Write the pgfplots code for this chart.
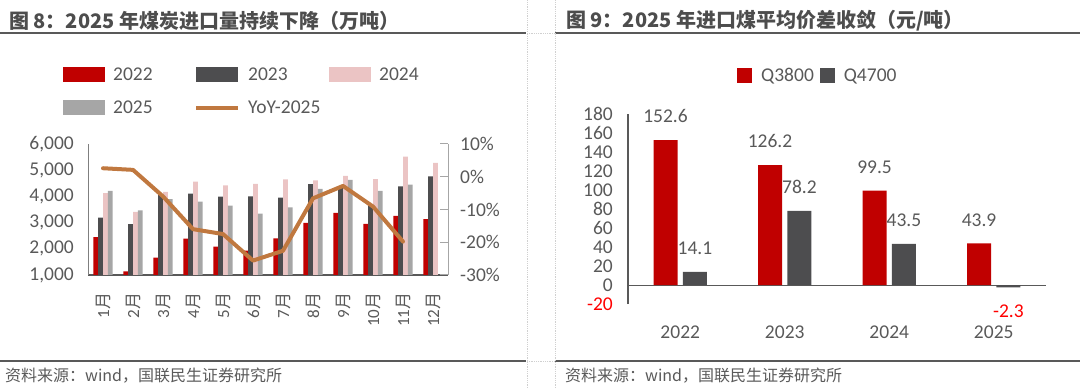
\documentclass[border=0pt]{standalone}
\usepackage{pgfplots}
\pgfplotsset{compat=1.18}
\usepackage{fontspec}
\setmainfont{Carlito}
\newfontfamily\cjk{Noto Sans CJK SC}
\newcommand\yue{{\cjk 月}}
\newcommand\fs[1]{\fontsize{#1}{#1}\selectfont}
\definecolor{cRed}{HTML}{C00000}
\definecolor{cDark}{HTML}{4D4D4F}
\definecolor{cPink}{HTML}{EBC4C4}
\definecolor{cGray}{HTML}{A6A6A6}
\definecolor{cLine}{HTML}{C0783F}
\definecolor{cText}{HTML}{595959}
\definecolor{cTitle}{HTML}{4D4D4D}
\definecolor{cAxisL}{HTML}{7F7F7F}
\definecolor{cAxisR}{HTML}{A6A6A6}
\definecolor{cSep}{HTML}{D0D0D0}
\definecolor{cNeg}{HTML}{FF0000}
\pgfplotsset{
  barlegL/.style={legend image code/.code={\fill[##1] (0pt,-7.5pt) rectangle (42pt,7.5pt);}},
  barlegR/.style={legend image code/.code={\fill[##1] (0pt,-7.5pt) rectangle (15pt,7.5pt);}},
  lineleg/.style={legend image code/.code={\draw[##1] (0pt,0pt) -- (42pt,0pt);}},
}
\begin{document}
\begin{tikzpicture}[x=1pt,y=1pt]
\path[use as bounding box] (0,0) rectangle (1080,388);
% frame lines
\draw[cText, line width=1.5pt] (0,355) -- (526,355);
\draw[cText, line width=1.5pt] (555,355) -- (1080,355);
\draw[cText, line width=2pt] (0,27) -- (526,27);
\draw[cText, line width=2pt] (555,27) -- (1080,27);
\draw[cSep, densely dotted, line width=0.8pt] (527,0) -- (527,388);
\draw[cSep, densely dotted, line width=0.8pt] (555,0) -- (555,388);
\draw[cSep, densely dotted, line width=0.8pt] (527,355) -- (555,355);
\draw[cSep, densely dotted, line width=0.8pt] (527,27) -- (555,27);
% titles
\node[anchor=west, inner sep=0pt, text=cTitle, font=\cjk\bfseries\fs{20}] at (9,367) {图 8：2025 年煤炭进口量持续下降（万吨）};
\node[anchor=west, inner sep=0pt, text=cTitle, font=\cjk\bfseries\fs{20}] at (566,367) {图 9：2025 年进口煤平均价差收敛（元/吨）};
\node[anchor=west, inner sep=0pt, text=cText, font=\cjk\fs{16}] at (5,12) {资料来源：wind，国联民生证券研究所};
\node[anchor=west, inner sep=0pt, text=cText, font=\cjk\fs{16}] at (565,12) {资料来源：wind，国联民生证券研究所};

% ---------- left chart, bars ----------
\begin{axis}[
  at={(88pt,113pt)}, anchor=south west, scale only axis,
  width=360pt, height=131pt,
  xmin=0.5, xmax=12.5, ymin=1000, ymax=6000,
  ybar=0pt, bar width=4.8pt,
  axis x line*=bottom, axis y line*=left,
  x axis line style={draw=cText, line width=1.6pt, -},
  y axis line style={draw=cAxisL, line width=1pt, -},
  xtick={1,...,12},
  xticklabels={1\yue,2\yue,3\yue,4\yue,5\yue,6\yue,7\yue,8\yue,9\yue,10\yue,11\yue,12\yue},
  xtick style={draw=none}, ytick style={draw=none},
  ytick={1000,2000,3000,4000,5000,6000},
  yticklabels={{1,000},{2,000},{3,000},{4,000},{5,000},{6,000}},
  tick label style={text=cText},
  yticklabel style={font=\fs{19.5}, inner sep=0pt, xshift=-14pt},
  xticklabel style={font=\fs{17}, rotate=90, anchor=east, inner xsep=13pt, inner ysep=0pt},
  legend columns=3,
  legend style={at={(-0.0694,1.60)}, anchor=north west, draw=none, fill=none,
    inner sep=0pt, font=\fs{19.5}, text=cText, row sep=15pt,
    /tikz/every odd column/.append style={column sep=6pt}, cells={anchor=west}},
]
\addplot[fill=cRed, draw=none, barlegL] coordinates {(1,2450) (2,1140) (3,1660) (4,2390) (5,2085) (6,1930) (7,2400) (8,2990) (9,3370) (10,2950) (11,3260) (12,3130)};
\addlegendentry{\makebox[79pt][l]{2022}}
\addplot[fill=cDark, draw=none, barlegL] coordinates {(1,3190) (2,2940) (3,4080) (4,4110) (5,3990) (6,4000) (7,3950) (8,4470) (9,4330) (10,3660) (11,4380) (12,4760)};
\addlegendentry{\makebox[79pt][l]{2023}}
\addplot[fill=cPink, draw=none, barlegL] coordinates {(1,4125) (2,3410) (3,4170) (4,4560) (5,4420) (6,4480) (7,4650) (8,4610) (9,4780) (10,4660) (11,5520) (12,5280)};
\addlegendentry{\makebox[79pt][l]{2024}}
\addplot[fill=cGray, draw=none, barlegL] coordinates {(1,4210) (2,3470) (3,3900) (4,3800) (5,3650) (6,3340) (7,3580) (8,4290) (9,4630) (10,4210) (11,4450)};
\addlegendentry{\makebox[79pt][l]{2025}}
\addlegendimage{cLine, line width=4pt, lineleg}
\addlegendentry{YoY-2025}
\end{axis}

% ---------- left chart, YoY line ----------
\begin{axis}[
  at={(88pt,113pt)}, anchor=south west, scale only axis,
  width=360pt, height=131pt,
  xmin=0.5, xmax=12.5, ymin=-30, ymax=10,
  axis x line=none, axis y line*=right,
  y axis line style={draw=cAxisR, line width=1pt, -},
  ytick={-30,-20,-10,0,10},
  yticklabels={{-30\%},{-20\%},{-10\%},{0\%},{10\%}},
  ytick style={draw=cAxisR, line width=1pt},
  tick align=inside, major tick length=8pt,
  tick label style={text=cText},
  yticklabel style={font=\fs{19.5}, inner sep=0pt, xshift=12pt},
]
\addplot[cLine, line width=4pt, line join=round, line cap=round] coordinates {(1,2.6) (2,2.1) (3,-6.0) (4,-16.0) (5,-17.5) (6,-25.6) (7,-22.6) (8,-6.6) (9,-2.8) (10,-9.1) (11,-19.8)};
\end{axis}

% ---------- right chart ----------
\begin{axis}[
  at={(628pt,83.8pt)}, anchor=south west, scale only axis,
  width=418pt, height=190.2pt,
  xmin=-0.5, xmax=3.5, ymin=-20, ymax=180,
  ybar=5.4pt, bar width=24pt,
  axis x line*=bottom, axis y line*=left,
  x axis line style={draw=none},
  y axis line style={draw=cText, line width=1.2pt, -},
  xtick={0,1,2,3}, xticklabels={2022,2023,2024,2025},
  xtick style={draw=none}, ytick style={draw=none},
  ytick={-20,0,20,40,60,80,100,120,140,160,180},
  yticklabels={{\textcolor{cNeg}{-20}},0,20,40,60,80,100,120,140,160,180},
  tick label style={text=cText, font=\fs{19.5}},
  yticklabel style={inner sep=0pt, xshift=-15pt},
  xticklabel style={inner sep=0pt, yshift=-17pt},
  extra y ticks={0}, extra y tick labels={},
  extra y tick style={grid=major, major grid style={draw=cText, line width=1.2pt}},
  nodes near coords={\pgfmathfloatifflags{\pgfplotspointmeta}{-}{\color{cNeg}}{}\pgfmathprintnumber[fixed,fixed zerofill,precision=1,assume math mode=true]{\pgfplotspointmeta}},
  every node near coord/.append style={font=\fs{19.5}, text=cText, inner xsep=0pt, inner ysep=17pt},
  legend columns=2,
  legend style={at={(0.2608,1.2024)}, anchor=west, draw=none, fill=none,
    inner sep=0pt, font=\fs{19.5}, text=cText,
    /tikz/every odd column/.append style={column sep=7pt},
    /tikz/every even column/.append style={column sep=4pt}, cells={anchor=west}},
]
\addplot[fill=cRed, draw=none, barlegR] coordinates {(0,152.6) (1,126.2) (2,99.5) (3,43.9)};
\addlegendentry{Q3800}
\addplot[fill=cDark, draw=none, barlegR] coordinates {(0,14.1) (1,78.2) (2,43.5) (3,-2.3)};
\addlegendentry{Q4700}
\end{axis}
\end{tikzpicture}
\end{document}
